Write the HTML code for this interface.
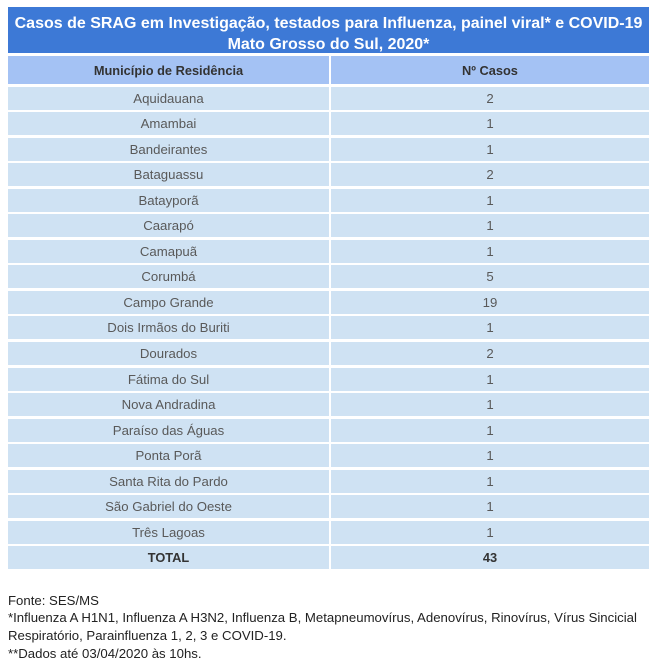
<!DOCTYPE html>
<html>
<head>
<meta charset="utf-8">
<style>
  html, body { margin:0; padding:0; background:#ffffff; }
  body { width:658px; height:672px; position:relative; overflow:hidden;
         font-family:"Liberation Sans", Arial, sans-serif; }
  .title { position:absolute; left:8px; top:7px; width:641px; height:46px; background:#3d79d6; }
  .title-text { position:absolute; left:8px; top:12.5px; width:641px; text-align:center;
                color:#ffffff; font-weight:bold; font-size:16px; line-height:21px; white-space:nowrap; }
  .grid { position:absolute; left:8px; top:56px; width:641px; display:grid;
          grid-template-columns:321px 318px; column-gap:2px;
          grid-template-rows:28px repeat(19, 23px); row-gap:2.55px; }
  .grid div { background:#cfe2f3; color:#595959; font-size:13.2px; text-align:center;
              display:flex; align-items:center; justify-content:center; white-space:nowrap; }
  .grid div.h { background:#a4c2f4; color:#333333; font-weight:bold; font-size:12.8px; }
  .grid div.t { color:#333333; font-weight:bold; font-size:12.8px; }
  .foot { position:absolute; left:8px; top:591.8px; font-size:13.2px; line-height:17.6px;
          color:#222222; white-space:nowrap; }
</style>
</head>
<body>
  <div class="title"></div>
  <div class="title-text">Casos de SRAG em Investigação, testados para Influenza, painel viral* e COVID-19<br>Mato Grosso do Sul, 2020*</div>
  <div class="grid">
    <div class="h">Município de Residência</div><div class="h">Nº Casos</div>
    <div>Aquidauana</div><div>2</div>
    <div>Amambai</div><div>1</div>
    <div>Bandeirantes</div><div>1</div>
    <div>Bataguassu</div><div>2</div>
    <div>Batayporã</div><div>1</div>
    <div>Caarapó</div><div>1</div>
    <div>Camapuã</div><div>1</div>
    <div>Corumbá</div><div>5</div>
    <div>Campo Grande</div><div>19</div>
    <div>Dois Irmãos do Buriti</div><div>1</div>
    <div>Dourados</div><div>2</div>
    <div>Fátima do Sul</div><div>1</div>
    <div>Nova Andradina</div><div>1</div>
    <div>Paraíso das Águas</div><div>1</div>
    <div>Ponta Porã</div><div>1</div>
    <div>Santa Rita do Pardo</div><div>1</div>
    <div>São Gabriel do Oeste</div><div>1</div>
    <div>Três Lagoas</div><div>1</div>
    <div class="t">TOTAL</div><div class="t">43</div>
  </div>
  <div class="foot">Fonte: SES/MS<br>*Influenza A H1N1, Influenza A H3N2, Influenza B, Metapneumovírus, Adenovírus, Rinovírus, Vírus Sincicial<br>Respiratório, Parainfluenza 1, 2, 3 e COVID-19.<br>**Dados até 03/04/2020 às 10hs.</div>
</body>
</html>
